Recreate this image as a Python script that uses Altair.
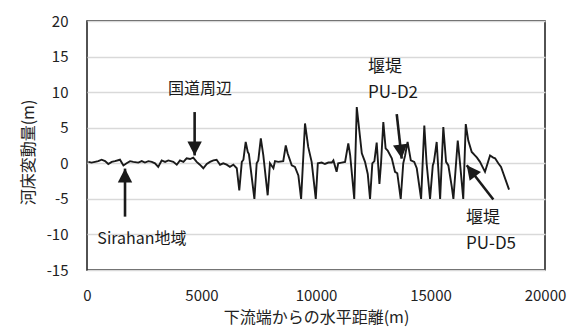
import altair as alt
import pandas as pd

# ---- main series (distance from downstream end [m], bed change [m]) ----
dist = [60,200,350,490,640,790,930,1080,1220,1440,
        1590,1730,1880,2020,2240,2390,2530,2680,2830,2970,
        3110,3260,3410,3550,3770,3920,4060,4210,4350,4500,
        4640,4790,4930,5080,5230,5370,5520,5660,5810,5950,
        6100,6240,6390,6540,6650,6760,6830,6930,7020,7070,
        7310,7410,7480,7590,7700,7890,7990,8140,8210,8350,
        8570,8680,8760,8940,9080,9230,9350,9520,9660,9810,
        9990,10080,10250,10390,10540,10690,10760,10900,10970,11120,
        11270,11410,11490,11670,11780,12000,12140,12260,12360,12460,
        12550,12650,12770,12840,12940,13040,13130,13310,13450,13550,
        13700,13810,13890,14000,14140,14290,14400,14590,14730,14830,
        14980,15100,15150,15270,15420,15560,15680,15780,15930,16000,
        16190,16290,16430,16540,16650,16800,16940,17030,17160,17380,
        17600,17740,17820,17960,18080,18430]
change = [0.2,0.1,0.2,0.3,0.5,0.3,-0.1,0.2,0.3,0.5,
          -0.3,0.0,0.3,0.2,0.1,0.3,0.1,0.3,0.2,0.0,
          -0.5,0.4,0.2,0.4,0.2,-0.2,0.4,0.2,0.7,0.6,
          0.8,0.2,-0.2,-0.7,-0.1,0.2,0.4,0.5,-0.2,0.0,
          -0.2,-0.5,-0.2,-0.7,-3.8,0.2,0.5,3.0,1.6,1.3,
          -5.0,0.0,0.4,3.5,1.1,-4.5,0.0,-0.7,0.3,0.2,
          0.3,2.5,1.4,-0.3,-0.5,-1.7,-5.0,5.6,2.3,0.2,
          -5.0,0.0,0.1,-0.1,0.1,0.1,0.4,-1.2,0.0,0.1,
          0.2,2.8,1.2,-5.0,7.9,1.4,0.2,-1.5,-5.0,0.0,
          0.3,2.9,-2.9,0.0,5.8,2.1,1.8,0.7,-1.2,-1.4,
          -5.0,0.0,1.1,3.0,0.4,0.2,-0.7,-5.0,5.3,0.0,
          -5.0,-0.3,0.2,3.0,-5.0,5.1,0.2,-0.3,-3.3,-5.0,
          3.2,0.0,-5.0,5.5,3.2,1.6,1.1,0.8,0.2,-1.2,
          1.1,0.8,0.7,0.0,-0.5,-3.7]

# ---- annotation arrows ----
arrow_tail_x = [4700, 1660, 13525, 17743]
arrow_tail_y = [7.2, -7.5, 6.9, -5.1]
arrow_tip_x = [4700, 1660, 13743, 16582]
arrow_tip_y = [1.1, -0.75, 0.66, -0.28]
arrow_angle = [180, 0, 173.6, 322.2]

# ---- annotation texts ----
label_text_c = ["国道周辺", "Sirahan地域"]
label_x_c = [4935, 2400]
label_y_c = [10.4, -10.7]
label_text_l = ["堰堤", "PU-D2", "堰堤", "PU-D5"]
label_x_l = [12270, 12270, 16550, 16550]
label_y_l = [13.5, 9.85, -7.7, -11.4]

x_ticks = [0, 5000, 10000, 15000, 20000]
y_ticks = [-15, -10, -5, 0, 5, 10, 15, 20]

FONT = "Noto Sans CJK JP"

df = pd.DataFrame({"x": dist, "y": change, "order": list(range(len(dist)))})
arr = pd.DataFrame({"x": arrow_tail_x, "y": arrow_tail_y,
                    "x2": arrow_tip_x, "y2": arrow_tip_y, "ang": arrow_angle})
txt_c = pd.DataFrame({"x": label_x_c, "y": label_y_c, "t": label_text_c})
txt_l = pd.DataFrame({"x": label_x_l, "y": label_y_l, "t": label_text_l})

xscale = alt.Scale(domain=[0, 20000], nice=False, zero=False)
yscale = alt.Scale(domain=[-15, 20], nice=False, zero=False)

xaxis = alt.Axis(values=x_ticks, grid=False, domain=False, ticks=False,
                 labelPadding=18, labelFontSize=15, labelFont=FONT,
                 labelColor="#222222", labelFlush=False, labelOverlap=False,
                 labelExpr="'' + datum.value",
                 title="下流端からの水平距離(m)", titleFont=FONT,
                 titleFontSize=16, titleFontWeight="normal",
                 titleColor="#222222", titleY=39, titleBaseline="top")
yaxis = alt.Axis(values=y_ticks, grid=True, gridColor="#d9d9d9",
                 gridWidth=1.3, domain=False, ticks=False, labelPadding=19,
                 labelFontSize=15, labelFont=FONT, labelColor="#222222",
                 labelFlush=False, labelOverlap=False,
                 labelExpr="'' + datum.value",
                 title="河床変動量(m)", titleFont=FONT, titleFontSize=16,
                 titleFontWeight="normal", titleColor="#222222",
                 titleX=-51, titleY=131)


def X(field):
    return alt.X(field, scale=xscale, axis=xaxis, title="下流端からの水平距離(m)")


def Y(field):
    return alt.Y(field, scale=yscale, axis=yaxis, title="河床変動量(m)")


line = alt.Chart(df).mark_line(color="#1a1a1a", strokeWidth=1.9).encode(
    x=X("x:Q"), y=Y("y:Q"), order="order:Q",
)

shafts = alt.Chart(arr).mark_rule(color="#1a1a1a", strokeWidth=2.6, strokeCap="butt").encode(
    x=X("x:Q"), y=Y("y:Q"), x2="x2:Q", y2="y2:Q",
)

heads = alt.Chart(arr).mark_point(
    shape="M0,0 L-0.9,1.75 L0.9,1.75 Z", filled=True, size=256,
    color="#1a1a1a", opacity=1, strokeWidth=0,
).encode(
    x=X("x2:Q"), y=Y("y2:Q"),
    angle=alt.Angle("ang:Q", scale=None),
)

texts_c = alt.Chart(txt_c).mark_text(font=FONT, fontSize=16, color="#1a1a1a",
                                     align="center", baseline="middle").encode(
    x=X("x:Q"), y=Y("y:Q"), text="t:N")

texts_l = alt.Chart(txt_l).mark_text(font=FONT, fontSize=17, color="#1a1a1a",
                                     align="left", baseline="middle").encode(
    x=X("x:Q"), y=Y("y:Q"), text="t:N")

chart = alt.layer(line, shafts, heads, texts_c, texts_l).properties(
    width=458, height=249,
    autosize=alt.AutoSizeParams(type="none"),
    padding={"left": 79, "top": 13, "right": 24, "bottom": 62},
    background="white",
).configure_view(stroke="#1a1a1a", strokeWidth=1.5)

chart.save("out.html", embed_options={"renderer": "svg", "actions": False})
